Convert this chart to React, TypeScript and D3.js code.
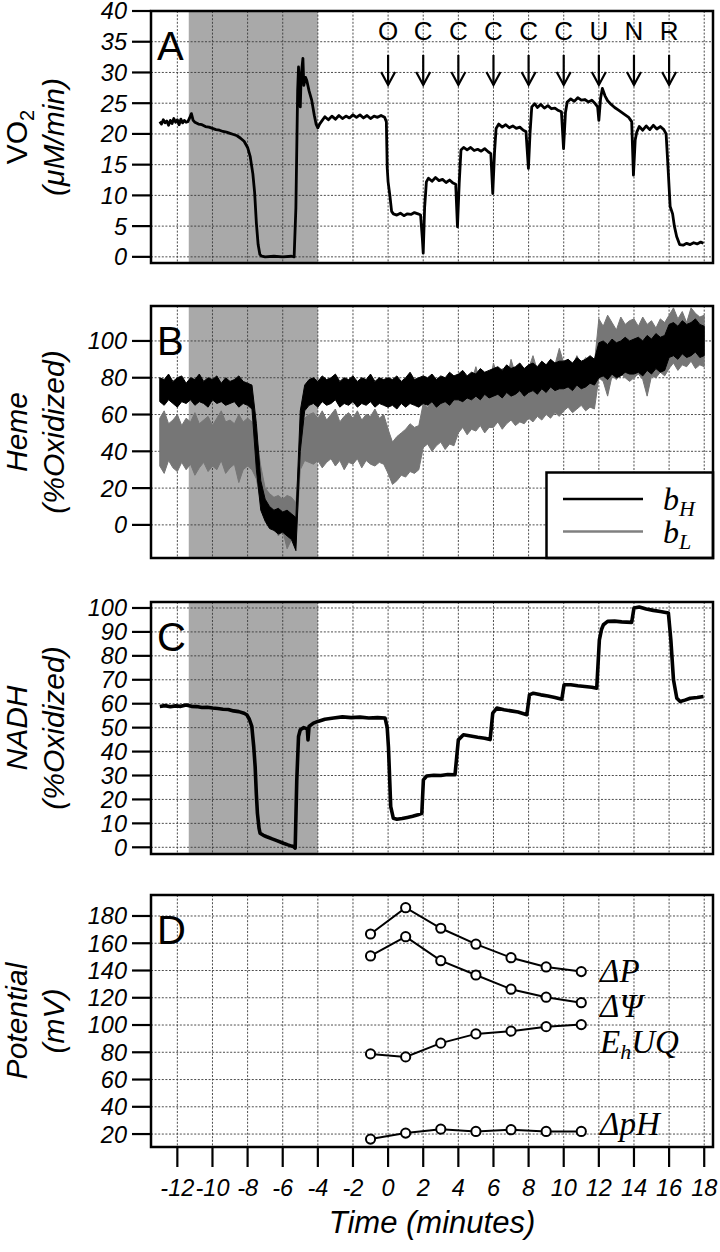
import React from 'react';
import * as d3 from 'd3';

// ---------- data ----------
const X_TICKS = [-12, -10, -8, -6, -4, -2, 0, 2, 4, 6, 8, 10, 12, 14, 16, 18];
const SHADE_START = -11.35;
const SHADE_END = -4.0;

// Panel A: VO2 (µM/min)
const vo2Time = [
  -13.0, -12.9, -12.8, -12.7, -12.6, -12.5, -12.4, -12.3, -12.2, -12.1, -12.0, -11.9, -11.8, -11.7, -11.6, -11.5, -11.4, -11.3, -11.2, -11.1,
  -11.0, -10.8, -10.6, -10.4, -10.2, -10.0, -9.8, -9.6, -9.4, -9.2, -9.0, -8.8, -8.6, -8.4, -8.2, -8.0, -7.85, -7.7, -7.6, -7.5,
  -7.4, -7.3, -7.2, -7.0, -6.5, -6.0, -5.5, -5.35, -5.25, -5.15, -5.1, -5.05, -5.0, -4.95, -4.85, -4.8, -4.7, -4.63, -4.5, -4.35,
  -4.2, -4.1, -4.0, -3.9, -3.8, -3.6, -3.4, -3.2, -3.0, -2.8, -2.6, -2.4, -2.2, -2.0, -1.8, -1.6, -1.4, -1.2, -1.0, -0.8,
  -0.6, -0.4, -0.2, -0.1, -0.05, 0.0, 0.1, 0.2, 0.3, 0.5, 0.7, 0.9, 1.1, 1.3, 1.5, 1.7, 1.85, 1.95, 2.0, 2.08,
  2.18, 2.3, 2.5, 2.7, 2.9, 3.1, 3.3, 3.5, 3.7, 3.85, 3.95, 4.05, 4.15, 4.3, 4.5, 4.7, 4.9, 5.1, 5.3, 5.5,
  5.7, 5.85, 5.96, 6.06, 6.15, 6.3, 6.5, 6.7, 6.9, 7.1, 7.3, 7.5, 7.7, 7.85, 7.99, 8.08, 8.18, 8.35, 8.5, 8.7,
  8.9, 9.1, 9.3, 9.5, 9.7, 9.87, 9.99, 10.1, 10.2, 10.4, 10.6, 10.8, 11.0, 11.2, 11.4, 11.6, 11.8, 11.93, 12.0, 12.1,
  12.2, 12.35, 12.5, 12.7, 12.9, 13.1, 13.3, 13.5, 13.7, 13.87, 13.97, 14.07, 14.16, 14.3, 14.5, 14.7, 14.9, 15.1, 15.3, 15.5,
  15.7, 15.83, 15.95, 16.06, 16.2, 16.3, 16.43, 16.6, 16.8, 17.0, 17.2, 17.4, 17.6, 17.8, 17.96,
];
const vo2Value = [
  22.0, 21.6, 22.3, 21.8, 22.1, 21.4, 22.2, 21.7, 22.5, 21.9, 22.3, 21.5, 22.4, 21.8, 22.2, 21.9, 22.0, 22.6, 23.3, 22.2,
  21.9, 21.6, 21.5, 21.2, 21.1, 20.9, 20.7, 20.6, 20.4, 20.3, 20.1, 19.9, 19.7, 19.3, 18.8, 17.8, 16.3, 13.5, 10.5, 5.5,
  2.0, 0.4, 0.1, 0.0, 0.1, 0.0, 0.1, 0.0, 8.0, 27.0, 30.9, 26.0, 24.4, 29.5, 32.3, 27.9, 29.2, 28.7, 27.0, 25.5,
  23.0, 21.6, 21.0, 21.6, 22.0, 22.8, 22.3, 22.9, 22.4, 23.0, 22.5, 22.9, 22.6, 23.1, 22.7, 23.1, 22.6, 23.0, 22.5, 22.9,
  22.7, 23.0, 22.7, 22.0, 14.5, 12.2, 10.0, 7.4, 7.0, 6.8, 7.1, 6.7, 7.0, 6.9, 7.2, 7.0, 6.8, 3.0, 0.6, 8.0,
  12.2, 12.8, 12.3, 12.9, 12.4, 12.6, 12.1, 12.5, 12.0, 11.8, 4.9, 12.0, 17.4, 17.8, 17.4, 17.8, 17.3, 17.5, 17.2, 17.6,
  17.1, 16.8, 10.3, 17.0, 20.9, 21.6, 21.1, 21.5, 21.0, 21.3, 20.9, 21.1, 20.6, 20.4, 14.4, 20.0, 24.4, 24.9, 24.3, 24.8,
  24.2, 24.6, 24.1, 24.2, 23.8, 23.6, 17.6, 23.5, 25.2, 25.7, 25.3, 25.9, 25.5, 25.6, 25.2, 25.5, 24.9, 24.4, 22.2, 25.8,
  27.4, 26.2, 25.4, 24.8, 24.3, 23.9, 23.5, 23.1, 22.7, 22.0, 13.3, 19.0, 20.3, 21.2, 20.6, 21.3, 20.7, 21.4, 20.8, 21.2,
  20.7, 20.0, 14.0, 8.2, 7.0, 5.0, 3.3, 2.0, 1.9, 2.2, 2.0, 2.3, 2.1, 2.4, 2.2,
];
const eventTimes = [0, 2, 4, 6, 8, 10, 12, 14, 16];
const eventLabels = ['O', 'C', 'C', 'C', 'C', 'C', 'U', 'N', 'R'];

// Panel B: heme (% oxidized), noisy traces given as envelopes sampled every 0.25 min from -13
const hemeStart = -13;
const hemeStep = 0.25;
const bHHigh = [
  80, 79, 82, 78, 80, 81, 77, 80, 79, 82, 78, 80, 79, 81, 77, 80, 78, 79, 81, 78, 77,
  76, 55, 24, 14, 10, 8, 9, 7, 8, 6, 4, 62, 76, 79,
  80, 78, 81, 79, 80, 82, 78, 80, 79, 81, 78, 80, 79, 82, 78, 80, 79,
  80, 79, 81, 78, 80, 83, 79, 80,
  81, 80, 82, 79, 81, 80, 83, 81,
  82, 84, 81, 83, 82, 85, 83, 84,
  85, 86, 84, 87, 85, 86, 88, 85,
  87, 88, 86, 89, 87, 90, 88, 89,
  89, 90, 88, 91, 89, 90, 92, 90,
  99, 100, 98, 101, 99, 100, 102, 100,
  101, 102, 100, 103, 101, 104, 102, 103,
  109, 110, 108, 111, 109, 110, 112, 109, 108,
];
const bHLow = [
  67, 65, 68, 66, 64, 67, 66, 68, 65, 67, 66, 64, 68, 66, 67, 65, 66, 67, 64, 66, 65,
  63, 30, 8, 2, -2, -3, -5, -4, -6, -8, -14, 40, 62, 65,
  66, 64, 67, 65, 66, 68, 64, 66, 65, 67, 64, 66, 65, 67, 64, 66, 65,
  64, 65, 63, 66, 64, 66, 65, 64,
  66, 65, 67, 64, 66, 67, 65, 68,
  68, 67, 69, 68, 70, 68, 71, 69,
  70, 71, 69, 72, 70, 71, 73, 70,
  72, 73, 71, 74, 72, 75, 73, 74,
  74, 75, 73, 76, 74, 75, 77, 76,
  80, 81, 79, 82, 80, 81, 83, 82,
  82, 83, 81, 84, 82, 85, 83, 84,
  91, 92, 90, 93, 91, 92, 94, 91, 92,
];
const bLHigh = [
  58, 62, 55, 57, 60, 54, 58, 56, 61, 55, 57, 59, 54, 58, 62, 56, 57, 55, 60, 56, 58,
  56, 48, 32, 20, 17, 15, 16, 14, 16, 15, 12, 45, 58, 60,
  61, 58, 62, 57, 60, 63, 56, 59, 61, 58, 62, 57, 60, 59, 63, 58, 60,
  52, 45, 48, 50, 52, 55, 53, 54,
  66, 64, 68, 65, 67, 70, 66, 69,
  76, 80, 74, 78, 86, 77, 79, 75,
  88, 80, 85, 78, 90, 82, 86, 84,
  85, 92, 84, 88, 86, 90, 87, 96,
  88, 90, 86, 92, 87, 91, 89, 88,
  112, 108, 114, 110, 106, 113, 109, 111,
  112, 108, 113, 109, 111, 107, 112, 110,
  114, 118, 112, 116, 110, 118, 115, 113, 114,
];
const bLLow = [
  32, 28, 35, 31, 29, 34, 30, 33, 27, 31, 34, 29, 32, 30, 35, 28, 31, 33, 23, 30, 32,
  30, 25, 12, 5, 2, 0, -6, -3, -13, -8, -10, 30, 35, 34,
  33, 35, 31, 34, 36, 32, 35, 30, 34, 33, 36, 31, 35, 33, 32, 34, 33,
  28, 22, 24, 27, 26, 29, 28, 30,
  42, 44, 40, 43, 45, 41, 44, 43,
  50, 53, 49, 52, 51, 54, 50, 53,
  53, 56, 52, 55, 57, 54, 56, 55,
  58, 56, 59, 57, 60, 58, 61, 59,
  62, 64, 61, 63, 65, 62, 64, 63,
  80, 78, 70, 81, 79, 82, 80, 78,
  80, 82, 79, 70, 81, 80, 83, 81,
  85, 88, 84, 87, 86, 89, 85, 87, 86,
];

// Panel C: NADH (% oxidized)
const nadhTime = [
  -13.0, -12.7, -12.4, -12.1, -11.8, -11.5, -11.2, -10.9, -10.6, -10.3, -10.0, -9.7, -9.4, -9.1, -8.8, -8.5, -8.2, -8.05, -7.9, -7.76,
  -7.65, -7.57, -7.5, -7.44, -7.35, -7.29, -7.1, -6.91, -6.6, -6.3, -5.96, -5.7, -5.5, -5.39, -5.29, -5.2, -5.1, -5.0, -4.8, -4.6,
  -4.56, -4.5, -4.25, -4.0, -3.6, -3.1, -2.6, -2.1, -1.6, -1.1, -0.6, -0.17, -0.05, 0.02, 0.15, 0.3, 0.5, 0.8, 1.1, 1.4,
  1.7, 1.92, 2.01, 2.2, 2.6, 3.0, 3.4, 3.81, 4.0, 4.29, 4.7, 5.1, 5.5, 5.81, 5.96, 6.19, 6.6, 7.0, 7.4, 7.9,
  8.05, 8.27, 8.7, 9.1, 9.5, 9.89, 10.02, 10.4, 10.8, 11.2, 11.6, 11.88, 12.03, 12.15, 12.26, 12.5, 12.9, 13.3, 13.87, 14.0,
  14.3, 14.7, 15.1, 15.5, 15.96, 16.1, 16.25, 16.44, 16.63, 16.9, 17.2, 17.6, 17.96,
];
const nadhValue = [
  58.8, 59.2, 58.7, 59.1, 58.9, 59.5, 58.9, 58.8, 58.4, 58.5, 58.2, 58.0, 57.7, 57.6, 57.0, 56.7, 56.0, 55.4, 53.5, 50.5,
  42.0, 33.7, 22.0, 14.2, 8.0, 5.9, 5.0, 4.4, 3.5, 2.7, 1.7, 1.0, 0.5, 0.3, -0.3, 28.0, 46.3, 49.1, 50.0, 49.5,
  44.9, 50.5, 51.9, 52.6, 53.5, 54.0, 54.5, 54.2, 54.4, 54.0, 54.2, 54.0, 50.0, 42.0, 17.0, 12.1, 11.7, 12.0, 12.5, 13.0,
  13.6, 14.2, 28.2, 29.8, 30.1, 30.0, 30.4, 30.3, 44.9, 47.0, 46.5, 46.0, 45.6, 45.0, 56.1, 58.2, 57.5, 57.0, 56.5, 55.4,
  63.7, 64.4, 63.7, 63.2, 62.6, 61.9, 67.9, 67.9, 67.5, 67.2, 66.9, 66.5, 86.7, 91.0, 93.0, 94.4, 94.5, 94.2, 94.0, 100.0,
  100.4, 99.6, 99.0, 98.5, 97.9, 86.7, 70.0, 62.3, 60.9, 61.5, 62.3, 62.6, 63.0,
];

// Panel D: potentials (mV)
const potTime = [-1, 1, 3, 5, 7, 9, 11];
const deltaP = [166.8, 186.1, 171.0, 159.3, 149.4, 142.6, 139.2];
const deltaPsi = [150.7, 164.8, 147.2, 136.7, 126.3, 120.4, 116.4];
const ehUQ = [78.8, 76.6, 86.7, 93.5, 95.5, 98.8, 100.3];
const deltaPH = [16.3, 20.7, 23.6, 21.9, 23.2, 21.9, 21.9];

const ticksA = [0, 5, 10, 15, 20, 25, 30, 35, 40];
const ticksB = [0, 20, 40, 60, 80, 100];
const ticksC = [0, 10, 20, 30, 40, 50, 60, 70, 80, 90, 100];
const ticksD = [20, 40, 60, 80, 100, 120, 140, 160, 180];

// ---------- layout ----------
const W = 720;
const H = 1252;
const LEFT = 151;
const RIGHT = 713;
const PANEL_H = 252;
const SANS = '"Liberation Sans", Arial, sans-serif';
const SERIF = '"Liberation Serif", "Times New Roman", serif';

const x = d3.scaleLinear().domain([-13.5, 18.5]).range([LEFT, RIGHT]);

type Panel = { top: number; domain: [number, number]; ticks: number[]; letter: string; shade: boolean };

const panels: Panel[] = [
  { top: 11, domain: [-1, 40], ticks: ticksA, letter: 'A', shade: true },
  { top: 306, domain: [-18, 119], ticks: ticksB, letter: 'B', shade: true },
  { top: 602, domain: [-2.8, 102.5], ticks: ticksC, letter: 'C', shade: true },
  { top: 895, domain: [10.5, 195.4], ticks: ticksD, letter: 'D', shade: false },
];

function yScale(p: Panel) {
  return d3.scaleLinear().domain(p.domain).range([p.top + PANEL_H, p.top]);
}

function Frame({ p, children }: { p: Panel; children?: React.ReactNode }) {
  const y = yScale(p);
  const bottom = p.top + PANEL_H;
  return (
    <g>
      {p.shade && (
        <rect x={x(SHADE_START)} y={p.top} width={x(SHADE_END) - x(SHADE_START)} height={PANEL_H} fill="#a9a9a9" />
      )}
      {X_TICKS.map((t) => (
        <line key={'vx' + t} x1={x(t)} x2={x(t)} y1={p.top} y2={bottom} stroke="#3a3a3a" strokeWidth={0.9} strokeDasharray="2 1.6" />
      ))}
      {p.ticks.map((v) => (
        <line key={'hy' + v} x1={LEFT} x2={RIGHT} y1={y(v)} y2={y(v)} stroke="#3a3a3a" strokeWidth={0.9} strokeDasharray="2 1.6" />
      ))}
      {children}
      <rect x={LEFT} y={p.top} width={RIGHT - LEFT} height={PANEL_H} fill="none" stroke="#000" strokeWidth={2.5} />
      {p.ticks.map((v) => (
        <g key={'t' + v}>
          <line x1={LEFT - 19} x2={LEFT} y1={y(v)} y2={y(v)} stroke="#000" strokeWidth={2.2} />
          <text x={127} y={y(v)} dy="0.36em" textAnchor="end" fontSize={23.5} fontStyle="italic" fontFamily={SANS}>
            {v}
          </text>
        </g>
      ))}
      <text x={157} y={p.top + 49} fontSize={40} fontFamily={SANS}>
        {p.letter}
      </text>
    </g>
  );
}

function YTitle({ p, line1, line2 }: { p: Panel; line1: React.ReactNode; line2: React.ReactNode }) {
  const cy = p.top + PANEL_H / 2;
  return (
    <g fontFamily={SANS} fontSize={30}>
      <text transform={`translate(27,${cy}) rotate(-90)`} textAnchor="middle">
        {line1}
      </text>
      <text transform={`translate(64,${cy}) rotate(-90)`} textAnchor="middle" fontStyle="italic">
        {line2}
      </text>
    </g>
  );
}

export default function App() {
  const [pA, pB, pC, pD] = panels;
  const yA = yScale(pA);
  const yB = yScale(pB);
  const yC = yScale(pC);
  const yD = yScale(pD);

  const vo2Line = d3
    .line<number>()
    .x((_, i) => x(vo2Time[i]))
    .y((d) => yA(d))(vo2Value) as string;

  const nadhLine = d3
    .line<number>()
    .x((_, i) => x(nadhTime[i]))
    .y((d) => yC(d))(nadhValue) as string;

  const hemeT = (i: number) => hemeStart + hemeStep * i;
  const band = (hi: number[], lo: number[]) =>
    d3
      .area<number>()
      .x((_, i) => x(hemeT(i)))
      .y0((_, i) => yB(lo[i]))
      .y1((d) => yB(d))(hi) as string;

  const potLine = (vals: number[]) =>
    d3
      .line<number>()
      .x((_, i) => x(potTime[i]))
      .y((d) => yD(d))(vals) as string;

  const potSeries = [deltaP, deltaPsi, ehUQ, deltaPH];

  const legX = 546.5;
  const legY = 472.5;

  return (
    <svg
      width={W}
      height={H}
      viewBox={`0 0 ${W} ${H}`}
      style={{ position: 'absolute', left: 0, top: 0, display: 'block', background: '#fff' }}
      fontFamily={SANS}
    >
      <rect x={0} y={0} width={W} height={H} fill="#fff" />

      {/* Panel A */}
      <Frame p={pA}>
        <path d={vo2Line} fill="none" stroke="#000" strokeWidth={2.8} strokeLinejoin="round" />
        {eventTimes.map((t, i) => (
          <g key={'ev' + i}>
            <text x={x(t)} y={40} textAnchor="middle" fontSize={26} fontFamily={SANS}>
              {eventLabels[i]}
            </text>
            <line x1={x(t)} x2={x(t)} y1={55} y2={85} stroke="#000" strokeWidth={2.2} />
            <path d={`M${x(t) - 7},${72} L${x(t)},${85} L${x(t) + 7},${72}`} fill="none" stroke="#000" strokeWidth={2.2} />
          </g>
        ))}
      </Frame>
      <YTitle
        p={pA}
        line1={
          <>
            VO<tspan fontSize={20} dy={7}>2</tspan>
          </>
        }
        line2="(μM/min)"
      />

      {/* Panel B */}
      <Frame p={pB}>
        <path d={band(bLHigh, bLLow)} fill="#767676" stroke="#767676" strokeWidth={1} />
        <path d={band(bHHigh, bHLow)} fill="#000" stroke="#000" strokeWidth={1} />
        <rect x={legX} y={legY} width={RIGHT - legX} height={pB.top + PANEL_H - legY} fill="#fff" stroke="#000" strokeWidth={2.5} />
        <line x1={563} x2={643} y1={499} y2={499} stroke="#000" strokeWidth={2.5} />
        <line x1={563} x2={643} y1={531.5} y2={531.5} stroke="#808080" strokeWidth={2.5} />
        <text x={663} y={510} fontFamily={SERIF} fontStyle="italic" fontSize={32}>
          b<tspan fontSize={22} dy={6}>H</tspan>
        </text>
        <text x={663} y={543} fontFamily={SERIF} fontStyle="italic" fontSize={32}>
          b<tspan fontSize={22} dy={6}>L</tspan>
        </text>
      </Frame>
      <YTitle p={pB} line1={<tspan fontStyle="italic">Heme</tspan>} line2="(%Oxidized)" />

      {/* Panel C */}
      <Frame p={pC}>
        <path d={nadhLine} fill="none" stroke="#000" strokeWidth={3.6} strokeLinejoin="round" />
      </Frame>
      <YTitle p={pC} line1={<tspan fontStyle="italic">NADH</tspan>} line2="(%Oxidized)" />

      {/* Panel D */}
      <Frame p={pD}>
        {potSeries.map((s, k) => (
          <g key={'ps' + k}>
            <path d={potLine(s)} fill="none" stroke="#000" strokeWidth={2} />
            {s.map((v, i) => (
              <circle key={i} cx={x(potTime[i])} cy={yD(v)} r={4.6} fill="#fff" stroke="#000" strokeWidth={2} />
            ))}
          </g>
        ))}
        <g fontFamily={SERIF} fontStyle="italic" fontSize={33}>
          <text x={x(12.07)} y={yD(131.8)}>ΔP</text>
          <text x={x(12.07)} y={yD(105.9)}>ΔΨ</text>
          <text x={x(12.07)} y={yD(79.7)}>
            E<tspan fontSize={22} dy={6}>h</tspan>
            <tspan dy={-6}>UQ</tspan>
          </text>
          <text x={x(12.07)} y={yD(19.3)}>ΔpH</text>
        </g>
      </Frame>
      <YTitle p={pD} line1={<tspan fontStyle="italic">Potential</tspan>} line2="(mV)" />

      {/* X axis */}
      {X_TICKS.map((t) => (
        <g key={'xt' + t}>
          <line x1={x(t)} x2={x(t)} y1={pD.top + PANEL_H} y2={pD.top + PANEL_H + 20} stroke="#000" strokeWidth={2.2} />
          <text x={x(t)} y={1196} textAnchor="middle" fontSize={23.5} fontStyle="italic" fontFamily={SANS}>
            {t}
          </text>
        </g>
      ))}
      <text x={432} y={1233} textAnchor="middle" fontSize={31} fontStyle="italic" fontFamily={SANS}>
        Time (minutes)
      </text>
    </svg>
  );
}
